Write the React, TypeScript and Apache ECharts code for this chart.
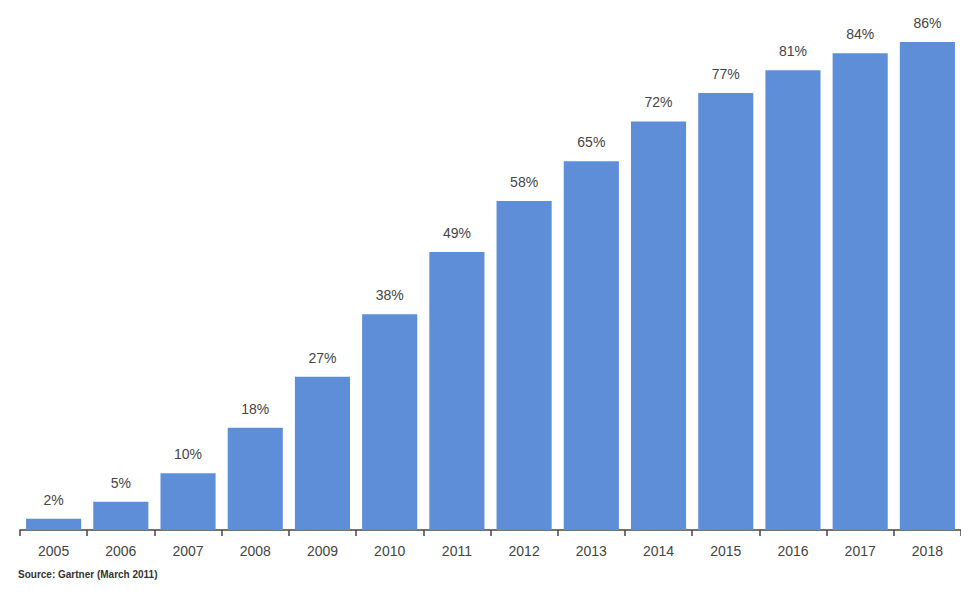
import React, { useEffect, useRef } from "react";
import * as echarts from "echarts";

const years = ["2005", "2006", "2007", "2008", "2009", "2010", "2011", "2012", "2013", "2014", "2015", "2016", "2017", "2018"];
const values = [2, 5, 10, 18, 27, 38, 49, 58, 65, 72, 77, 81, 84, 86];
const sourceText = "Source: Gartner (March 2011)";

export default function App() {
  const ref = useRef<HTMLDivElement>(null);
  useEffect(() => {
    if (!ref.current) return;
    const chart = echarts.init(ref.current, null, { renderer: "svg" });
    chart.setOption({
      animation: false,
      backgroundColor: "#ffffff",
      grid: { left: 20, top: 0, width: 941, height: 530, containLabel: false },
      xAxis: {
        type: "category",
        data: years,
        axisLine: { show: true, lineStyle: { color: "#444", width: 1.5 } },
        axisTick: { show: true, alignWithLabel: false, length: 6, lineStyle: { color: "#444", width: 1.5 } },
        axisLabel: { color: "#444", fontSize: 14, fontFamily: "Liberation Sans, Arial, sans-serif", margin: 14 },
      },
      yAxis: {
        type: "value",
        min: 0,
        max: 93.4,
        show: false,
        splitLine: { show: false },
      },
      series: [
        {
          type: "bar",
          data: values,
          barCategoryGap: "18%",
          itemStyle: { color: "#5e8ed8" },
          label: {
            show: true,
            position: "top",
            distance: 12,
            formatter: "{c}%",
            color: "#444",
            fontSize: 14,
            fontFamily: "Liberation Sans, Arial, sans-serif",
          },
        },
      ],
      graphic: [
        {
          type: "text",
          left: 18,
          top: 569,
          style: {
            text: sourceText,
            fill: "#333",
            fontSize: 10,
            fontWeight: "bold",
            fontFamily: "Liberation Sans, Arial, sans-serif",
          },
        },
      ],
    });
    return () => chart.dispose();
  }, []);
  return <div ref={ref} style={{ width: 961, height: 591, position: "absolute", left: 0, top: 0 }} />;
}
